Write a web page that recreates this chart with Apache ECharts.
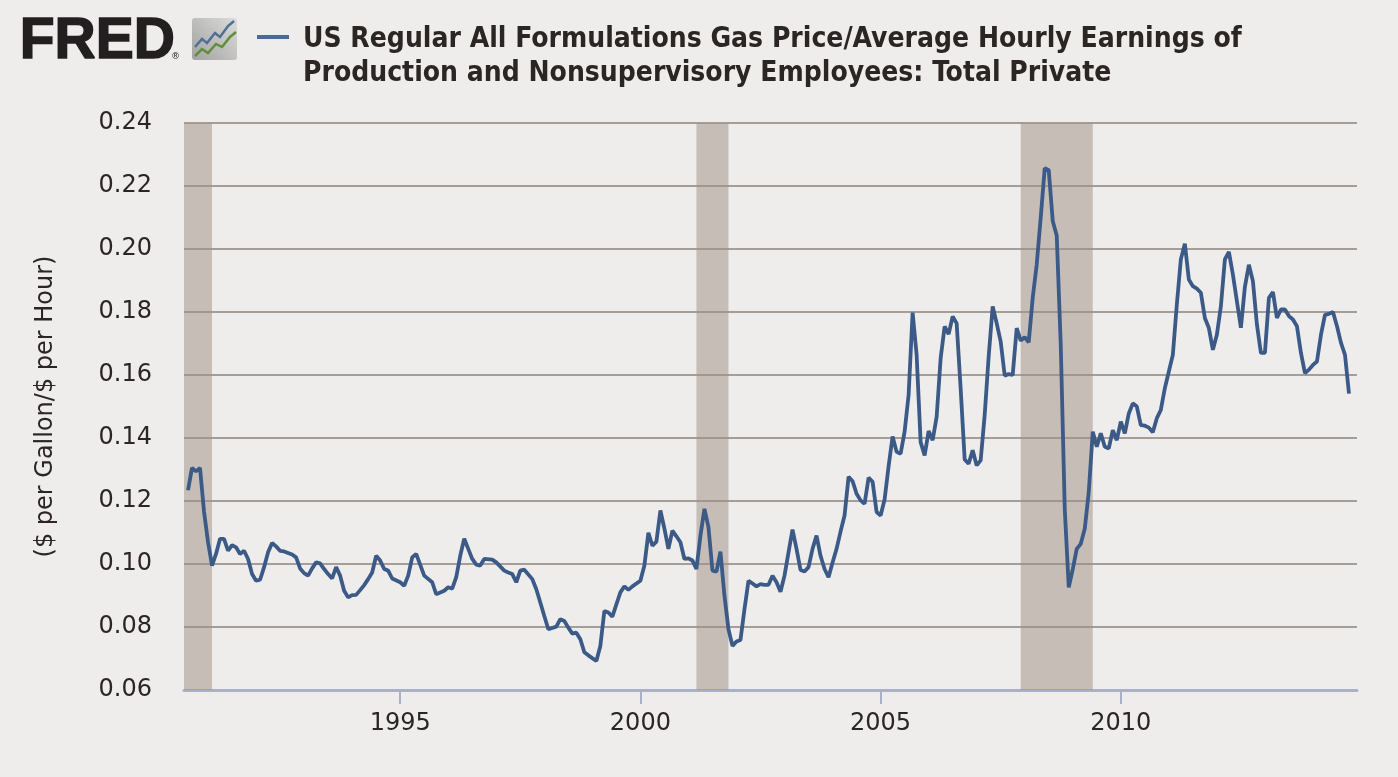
<!DOCTYPE html>
<html>
<head>
<meta charset="utf-8">
<title>US Regular Gas Price / Average Hourly Earnings</title>
<script src="https://cdn.jsdelivr.net/npm/echarts@6/dist/echarts.min.js"></script>
<style>
  html, body { margin: 0; padding: 0; background: #eeedeb; }
  #chart { width: 1398px; height: 777px; }
</style>
</head>
<body>
<div id="chart"></div>
<script>
// monthly series, first value is Aug 1990 (null = not read)
const startYear = 1990
const startMonth = 8
const ratio = [
  0.1234, 0.1305, 0.1294, 0.1305, 0.1166,
  0.1070, 0.0995, 0.1032, 0.1080, 0.1080, 0.1042, 0.1060, 0.1053, 0.1032, 0.1042, 0.1016, 0.0968,
  0.0947, 0.0950, 0.0990, 0.1037, 0.1067, 0.1056, 0.1042, 0.1040, null, 0.1030, 0.1021, 0.0986,
  0.0971, 0.0963, 0.0986, 0.1005, 0.1002, 0.0984, 0.0968, 0.0954, 0.0990, 0.0963, 0.0915, 0.0894,
  0.0901, 0.0902, 0.0917, 0.0933, 0.0952, 0.0973, 0.1026, 0.1011, 0.0984, 0.0979, 0.0954, null,
  0.0942, 0.0931, 0.0963, 0.1021, 0.1032, null, 0.0963, null, 0.0942, 0.0904, null, 0.0915,
  0.0926, 0.0922, 0.0958, 0.1026, 0.1080, 0.1048, 0.1016, 0.0998, 0.0995, 0.1016, null, 0.1014,
  0.1005, null, 0.0979, 0.0973, 0.0968, 0.0942, 0.0979, 0.0982, null, 0.0952, 0.0920, 0.0878,
  0.0835, 0.0793, null, 0.0801, 0.0825, 0.0819, 0.0798, 0.0779, 0.0782, 0.0761, 0.0720, 0.0710,
  null, 0.0692, 0.0740, 0.0851, 0.0846, 0.0833, 0.0872, 0.0910, 0.0929, 0.0918, 0.0929, null,
  0.0947, 0.0995, 0.1099, 0.1058, 0.1071, 0.1170, 0.1112, 0.1048, 0.1106, 0.1088, 0.1069, 0.1016,
  0.1018, 0.1011, 0.0984, 0.1090, 0.1175, 0.1117, 0.0979, 0.0976, 0.1039, 0.0899, 0.0793, 0.0740,
  0.0754, 0.0759, 0.0856, 0.0947, 0.0938, 0.0929, 0.0936, 0.0934, 0.0934, 0.0963, 0.0942, 0.0912,
  0.0963, 0.1037, 0.1109, 0.1048, 0.0981, 0.0976, 0.0990, 0.1048, 0.1090, 0.1026, 0.0984, 0.0958,
  0.1005, 0.1048, 0.1103, 0.1154, 0.1277, 0.1263, 0.1223, 0.1202, 0.1191, 0.1274, 0.1261, 0.1165,
  0.1154, 0.1205, 0.1310, 0.1405, 0.1356, 0.1350, 0.1420, 0.1537, 0.1798, 0.1664, 0.1387, 0.1345,
  0.1422, 0.1393, 0.1467, 0.1653, 0.1754, 0.1730, 0.1786, 0.1764, 0.1557, 0.1332, 0.1318, 0.1361,
  0.1313, 0.1329, 0.1473, 0.1659, 0.1818, 0.1764, 0.1706, 0.1598, 0.1603, 0.1600, 0.1749, 0.1709,
  0.1720, 0.1704, 0.1845, 0.1951, 0.2100, 0.2257, 0.2250, 0.2089, 0.2042, 0.1696, 0.1175, 0.0926,
  0.0984, 0.1048, 0.1064, 0.1112, 0.1229, 0.1420, 0.1372, 0.1415, 0.1372, 0.1367, 0.1425, 0.1393,
  0.1452, 0.1415, 0.1478, 0.1510, 0.1500, 0.1441, 0.1439, 0.1433, 0.1418, 0.1463, 0.1489, 0.1558,
  0.1611, 0.1664, 0.1824, 0.1967, 0.2017, 0.1903, 0.1882, 0.1874, 0.1861, 0.1781, 0.1749, 0.1680,
  0.1728, 0.1818, 0.1967, 0.1991, 0.1919, 0.1834, 0.1750, 0.1880, 0.1950, 0.1898, 0.1760, 0.1670,
  0.1670, 0.1845, 0.1863, 0.1781, 0.1808, 0.1808, 0.1787, 0.1776, 0.1755, 0.1670, 0.1606, 0.1617,
  0.1632, 0.1643, 0.1728, 0.1791, 0.1794, 0.1800, 0.1755, 0.1702, 0.1664, 0.1541
]

const recessions = [
  ['1990-07', '1991-02'],
  ['2001-03', '2001-11'],
  ['2007-12', '2009-06']
]

const xTickYears = [1995, 2000, 2005, 2010]
const xRange = ['1990-07', '2014-12']
const yMin = 0.06
const yMax = 0.24
const yStep = 0.02

const titleLines = [
  'US Regular All Formulations Gas Price/Average Hourly Earnings of',
  'Production and Nonsupervisory Employees: Total Private'
]
const yAxisName = '($ per Gallon/$ per Hour)'

const toYear = (s) => {
  const [y, m] = s.split('-').map(Number)
  return y + (m - 1) / 12
}

const points = ratio.map((v, i) => [startYear + (startMonth - 1 + i) / 12, v])

const textColor = '#2b2624'
const axisFont = 'DejaVu Sans'

const chart = echarts.init(document.getElementById('chart'))

chart.setOption({
  backgroundColor: '#eeedeb',
  animation: false,
  grid: { left: 184, right: 41, top: 123, bottom: 87 },
  title: {
    text: titleLines.join('\n'),
    left: 298,
    top: 18,
    textStyle: {
      fontFamily: "'Liberation Sans Narrow', 'DejaVu Sans Condensed', sans-serif",
      fontWeight: 'bold',
      fontSize: 28,
      lineHeight: 34,
      color: textColor
    }
  },
  graphic: [
    {
      type: 'text',
      left: 19,
      top: 13,
      style: {
        text: 'FRED',
        fill: '#231f20',
        stroke: '#231f20',
        lineWidth: 1.5,
        font: 'bold 57px "Liberation Sans"'
      }
    },
    {
      type: 'text',
      left: 171,
      top: 52,
      style: { text: '®', fill: '#231f20', font: '9px "DejaVu Sans"' }
    },
    {
      type: 'group',
      left: 192,
      top: 18,
      children: [
        {
          type: 'rect',
          shape: { x: 0, y: 0, width: 45, height: 42, r: 3 },
          style: {
            fill: new echarts.graphic.LinearGradient(1, 0, 0, 1, [
              { offset: 0, color: '#dcdcda' },
              { offset: 1, color: '#a2a2a0' }
            ])
          }
        },
        {
          type: 'polyline',
          shape: { points: [[3, 29], [10, 21], [15, 25], [23, 15], [28, 19], [36, 8], [42, 3]] },
          style: { stroke: '#4f6f96', lineWidth: 2.5, fill: null }
        },
        {
          type: 'polyline',
          shape: { points: [[3, 38], [10, 31], [16, 35], [24, 26], [30, 29], [38, 19], [44, 14]] },
          style: { stroke: '#5f8f3a', lineWidth: 2.5, fill: null }
        }
      ]
    },
    {
      type: 'line',
      shape: { x1: 257, y1: 37, x2: 289, y2: 37 },
      style: { stroke: '#4a6b96', lineWidth: 4 }
    }
  ],
  xAxis: {
    type: 'value',
    min: toYear(xRange[0]),
    max: toYear(xRange[1]),
    splitLine: { show: false },
    axisLine: { lineStyle: { color: '#a9b1c6', width: 3 } },
    axisTick: {
      customValues: xTickYears,
      length: 14,
      lineStyle: { color: '#a9b1c6', width: 2 }
    },
    axisLabel: {
      customValues: xTickYears,
      formatter: (v) => String(Math.round(v)),
      fontFamily: axisFont,
      fontSize: 24,
      color: textColor,
      margin: 22
    }
  },
  yAxis: {
    type: 'value',
    min: yMin,
    max: yMax,
    interval: yStep,
    name: yAxisName,
    nameLocation: 'middle',
    nameRotate: 90,
    nameGap: 126,
    nameTextStyle: { fontFamily: axisFont, fontSize: 24, color: textColor },
    axisLine: { show: false },
    axisTick: { show: false },
    axisLabel: {
      formatter: (v) => v.toFixed(2),
      fontFamily: axisFont,
      fontSize: 24,
      color: textColor,
      margin: 32
    },
    splitLine: { lineStyle: { color: '#a59d97', width: 2 } }
  },
  series: [
    {
      type: 'line',
      data: points,
      connectNulls: true,
      showSymbol: false,
      lineStyle: { color: '#3b5a87', width: 3.8 },
      markArea: {
        silent: true,
        itemStyle: { color: 'rgba(160,145,135,0.52)' },
        data: recessions.map((r) => [{ xAxis: toYear(r[0]) }, { xAxis: toYear(r[1]) }])
      }
    }
  ]
})
</script>
</body>
</html>
